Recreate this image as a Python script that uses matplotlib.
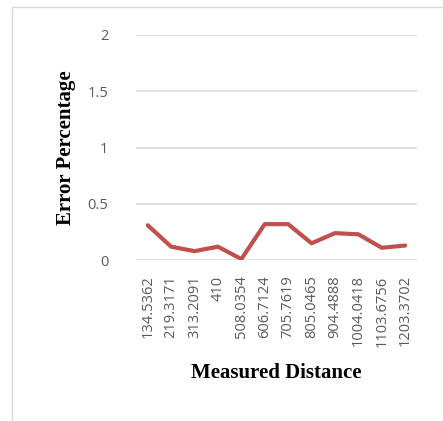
import matplotlib.pyplot as plt
from matplotlib.patches import Rectangle

# Measured distances (category labels) and the error at each one
distances = ['134.5362', '219.3171', '313.2091', '410', '508.0354', '606.7124',
             '705.7619', '805.0465', '904.4888', '1004.0418', '1103.6756', '1203.3702']
error_pct = [0.31, 0.12, 0.08, 0.12, 0.01, 0.32, 0.32, 0.15, 0.24, 0.23, 0.11, 0.13]
y_ticks = [0, 0.5, 1, 1.5, 2]

fig = plt.figure(figsize=(4.43, 4.21), dpi=100)
ax = fig.add_axes([0.307, 0.382, 0.634, 0.535])

# Light grey frame round the whole chart
fig.patches.append(Rectangle((12 / 443, -0.1), 1.2, 1 - 7 / 421 + 0.1,
                             transform=fig.transFigure, fill=False,
                             edgecolor='#D9D9D9', linewidth=1))

x = range(len(distances))
ax.plot(x, error_pct, color='#C0504D', linewidth=3, solid_capstyle='round', zorder=3)

ax.set_xlim(-0.5, len(distances) - 0.5)
ax.set_ylim(0, 2)
ax.set_yticks(y_ticks)
ax.set_yticklabels(['0', '0.5', '1', '1.5', '2'])
ax.set_xticks(list(x))
ax.set_xticklabels(distances, rotation=90)

# horizontal gridlines at each y tick
for yv in y_ticks:
    ax.axhline(yv, color='#D9D9D9', linewidth=1.1, zorder=1)
for s in ax.spines.values():
    s.set_visible(False)
ax.tick_params(length=0, labelsize=10.5, colors='#595959')
ax.tick_params(axis='y', pad=20)
ax.tick_params(axis='x', pad=11)
for lab in ax.get_xticklabels() + ax.get_yticklabels():
    lab.set_family('Open Sans')

ax.set_ylabel('Error Percentage', family='Liberation Serif', fontweight='bold',
              fontsize=15, color='black', labelpad=8)
ax.set_xlabel('Measured Distance', family='Liberation Serif', fontweight='bold',
              fontsize=15, color='black', labelpad=12)

fig.savefig('out.png', dpi=100)
